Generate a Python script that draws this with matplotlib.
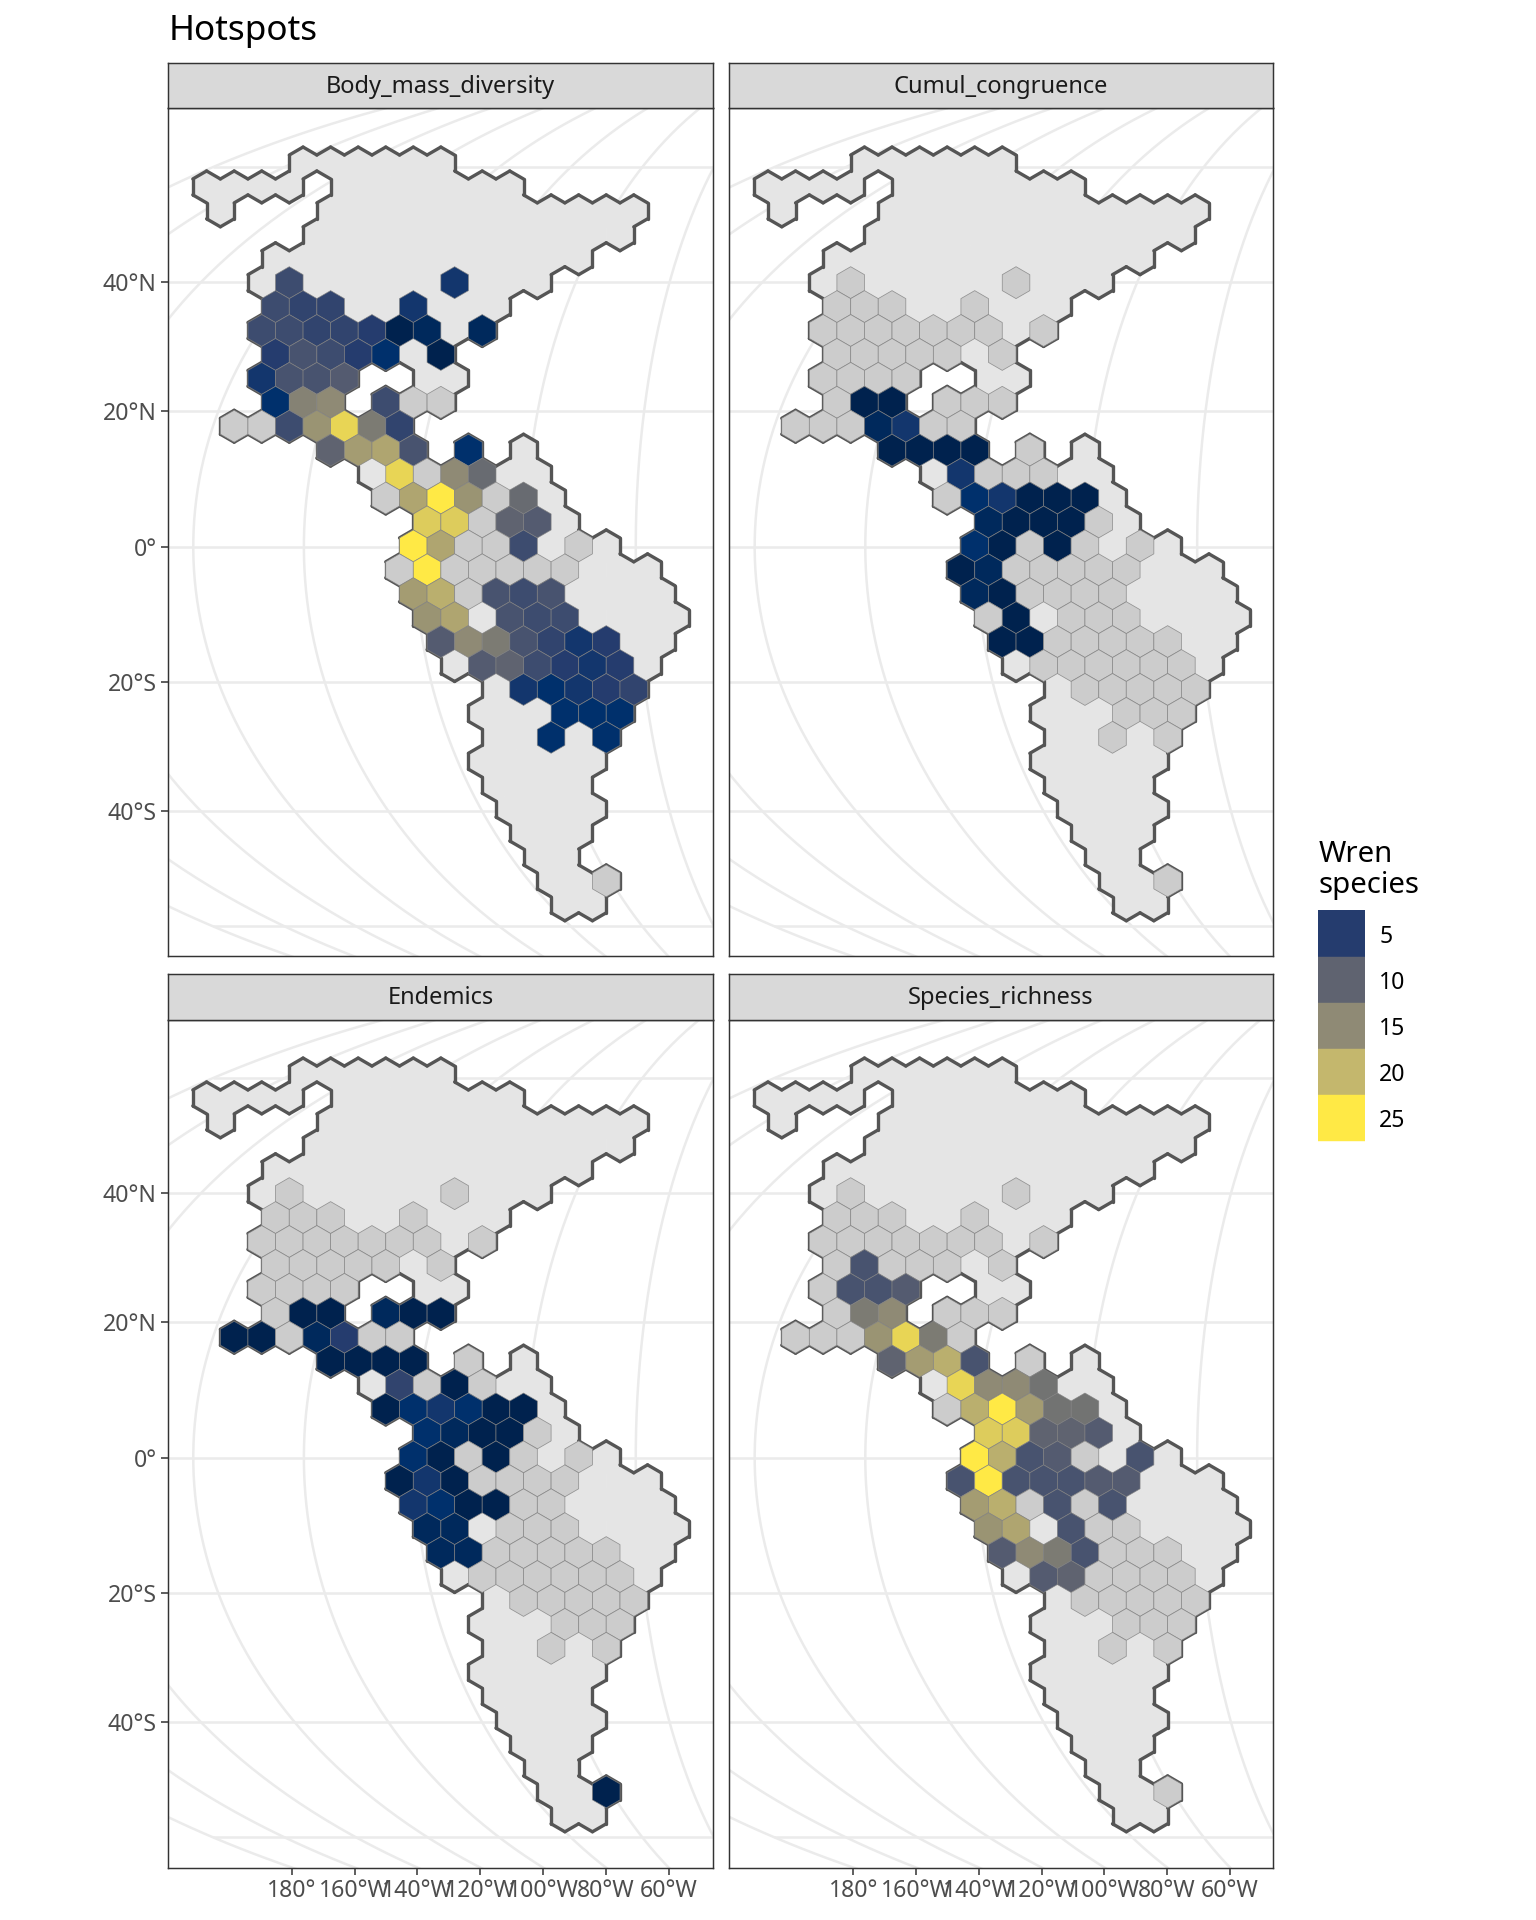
import numpy as np
import matplotlib
matplotlib.use("Agg")
import matplotlib.pyplot as plt
from matplotlib.collections import PolyCollection, LineCollection
from matplotlib.colors import LinearSegmentedColormap, Normalize

plt.rcParams['font.family'] = ['Noto Sans', 'DejaVu Sans']

# ---------- data: hex cells by (row, half-column) ----------
LAND_RUNS = {
    0: [(7, 17)], 1: [(0, 6), (10, 22)], 2: [(1, 1), (9, 31)], 3: [(8, 30)], 4: [(5, 27)],
    5: [(4, 24)], 6: [(5, 21)], 7: [(4, 20)], 8: [(5, 17)], 9: [(4, 10), (16, 18)],
    10: [(5, 9), (13, 17)], 11: [(2, 14)], 12: [(9, 15), (19, 19), (23, 23)], 13: [(12, 24)],
    14: [(13, 25)], 15: [(16, 26)], 16: [(15, 29)], 17: [(14, 32)], 18: [(15, 33)],
    19: [(16, 34)], 20: [(17, 33)], 21: [(18, 32)], 22: [(21, 31)], 23: [(20, 30)],
    24: [(21, 29)], 25: [(20, 28)], 26: [(21, 27)], 27: [(22, 28)], 28: [(23, 27)],
    29: [(24, 26)], 30: [(25, 29)], 31: [(26, 28)],
}

# every sampled cell; the values are those of Body_mass_diversity (0 = none)
BODY_MASS = {
    5: {6: 7, 18: 4},
    6: {5: 7, 7: 6, 9: 6, 15: 4},
    7: {4: 7, 6: 7, 8: 6, 10: 6, 12: 5, 14: 1, 16: 2, 20: 2},
    8: {5: 5, 7: 8, 9: 7, 11: 5, 13: 3, 17: 1},
    9: {4: 4, 6: 8, 8: 8, 10: 9},
    10: {5: 3, 7: 14, 9: 15, 13: 7, 15: 0, 17: 0},
    11: {2: 0, 4: 0, 6: 7, 8: 16, 10: 23, 12: 13, 14: 6},
    12: {9: 10, 11: 17, 13: 18, 15: 8, 19: 3},
    13: {14: 23, 16: 0, 18: 15, 20: 11},
    14: {13: 0, 15: 18, 17: 25, 19: 16, 21: 0, 23: 11},
    15: {16: 22, 18: 22, 20: 0, 22: 10, 24: 9},
    16: {15: 25, 17: 18, 19: 0, 21: 0, 23: 7, 27: 0},
    17: {14: 0, 16: 25, 18: 0, 20: 0, 22: 0, 24: 0, 26: 0},
    18: {15: 17, 17: 19, 19: 0, 21: 8, 23: 7, 25: 8},
    19: {16: 16, 18: 18, 22: 8, 24: 7, 26: 7},
    20: {17: 9, 19: 15, 21: 13, 23: 8, 25: 6, 27: 4, 29: 5},
    21: {20: 9, 22: 10, 24: 7, 26: 5, 28: 4, 30: 5},
    22: {23: 4, 25: 3, 27: 4, 29: 5, 31: 6},
    23: {26: 3, 28: 3, 30: 3},
    24: {25: 3, 29: 3},
    30: {29: 0},
}
CUMUL = {
    10: {7: 1, 9: 1},
    11: {8: 2, 10: 4},
    12: {9: 1, 11: 1, 13: 1, 15: 1},
    13: {14: 4},
    14: {15: 3, 17: 4, 19: 1, 21: 1, 23: 1},
    15: {16: 2, 18: 1, 20: 1, 22: 1},
    16: {15: 3, 17: 1, 21: 1},
    17: {14: 1, 16: 2},
    18: {15: 2, 17: 1},
    19: {18: 1},
    20: {17: 1, 19: 1},
}
ENDEMICS = {
    10: {7: 1, 9: 1, 13: 2, 15: 1, 17: 1},
    11: {2: 1, 4: 1, 8: 2, 10: 5},
    12: {9: 1, 11: 1, 13: 1, 15: 1},
    13: {14: 6, 18: 1},
    14: {13: 1, 15: 3, 17: 4, 19: 3, 21: 1, 23: 1},
    15: {16: 3, 18: 2, 20: 1, 22: 1},
    16: {15: 3, 17: 1, 21: 1},
    17: {14: 1, 16: 4, 18: 1},
    18: {15: 4, 17: 3, 19: 1, 21: 1},
    19: {16: 2, 18: 2},
    20: {17: 2, 19: 2},
    30: {29: 1},
}
RICHNESS = {
    8: {7: 8},
    9: {6: 8, 8: 8, 10: 9},
    10: {7: 13, 9: 15},
    11: {8: 16, 10: 23, 12: 13},
    12: {9: 10, 11: 17, 13: 19, 15: 8},
    13: {14: 23, 16: 15, 18: 15, 20: 12},
    14: {15: 19, 17: 25, 19: 17, 21: 12, 23: 12},
    15: {16: 22, 18: 22, 20: 10, 22: 10, 24: 9},
    16: {15: 25, 17: 19, 19: 8, 21: 9, 27: 8},
    17: {14: 8, 16: 25, 18: 8, 20: 8, 22: 8, 24: 9, 26: 9},
    18: {15: 17, 17: 19, 21: 8, 25: 8},
    19: {16: 16, 18: 18, 22: 8},
    20: {17: 9, 19: 15, 21: 13, 23: 8},
    21: {20: 9, 22: 10},
}
PANEL_NAMES = ['Body_mass_diversity', 'Cumul_congruence', 'Endemics', 'Species_richness']
PANEL_VALUES = [BODY_MASS, CUMUL, ENDEMICS, RICHNESS]

LEGEND_LEVELS = [5, 10, 15, 20, 25]
SCALE_VALUES = [1, 3, 5, 10, 15, 20, 25]
SCALE_COLOURS = ['#00224E', '#00306C', '#263C6E', '#5F6370', '#8F8A75', '#C4B76D', '#FFE945']

LAT_TICKS = [40, 20, 0, -20, -40]
LAT_LABELS = ['40°N', '20°N', '0°', '20°S', '40°S']
LON_TICKS = [-180, -160, -140, -120, -100, -80, -60]
LON_LABELS = ['180°', '160°W', '140°W', '120°W', '100°W', '80°W', '60°W']

# ---------- layout (pixels) ----------
W, H = 1536, 1920
S = 352.0                    # px per projected unit
XC, YC = 857.0, 546.7        # px of (0, 0) in the first panel
PX = [(168.4, 712.5), (728.5, 1273.0)]
PY = [(108.2, 956.2), (1019.5, 1867.5)]
SHIFT_X = [0.0, 561.4]       # map shift from the first panel, by column
SHIFT_Y = [0.0, 911.0]       # map shift from the first panel, by row
STRIP = 45.7
HEX_W = 27.56 / S
ROW_H = 23.93 / S
SIDE = ROW_H / 1.5
H0 = (206.6 - XC) / S
R0 = (YC - 163.0) / S


def solve_theta(lat_deg):
    phi = np.radians(lat_deg)
    lo, hi = -np.pi / 2 * np.ones_like(phi), np.pi / 2 * np.ones_like(phi)
    for _ in range(50):
        mid = (lo + hi) / 2
        f = 2 * mid + np.sin(2 * mid) - np.pi * np.sin(phi)
        hi = np.where(f > 0, mid, hi)
        lo = np.where(f > 0, lo, mid)
    return (lo + hi) / 2


def mollweide(lon, lat):
    lon, lat = np.asarray(lon, float), np.asarray(lat, float)
    th = solve_theta(lat)
    return 2 * np.sqrt(2) / np.pi * np.radians(lon) * np.cos(th), np.sqrt(2) * np.sin(th)


OFFS = [(0, 2), (1, 1), (1, -1), (0, -2), (-1, -1), (-1, 1)]


def lattice(r, h):
    return [(h + dx, -3 * r + dy) for dx, dy in OFFS]


def to_map(p):
    return H0 + p[0] * HEX_W / 2, R0 + p[1] * SIDE / 2


def hex_vertices(r, h):
    return [to_map(p) for p in lattice(r, h)]


land = [(r, h) for r, runs in LAND_RUNS.items() for a, b in runs for h in range(a, b + 1, 2)]
sampled = [(r, h) for r, row in BODY_MASS.items() for h in row]

edges = {}
for r, h in land:
    v = lattice(r, h)
    for i in range(6):
        key = tuple(sorted([v[i], v[(i + 1) % 6]]))
        edges[key] = edges.get(key, 0) + 1
outline = [(to_map(k[0]), to_map(k[1])) for k, n in edges.items() if n == 1]

cmap = LinearSegmentedColormap.from_list(
    'wren', [((v - 1) / 24, c) for v, c in zip(SCALE_VALUES, SCALE_COLOURS)])
norm = Normalize(1, 25)

GRID = '#EBEBEB'
DARK = '#333333'
fig = plt.figure(figsize=(W / 100, H / 100), dpi=100, facecolor='white')


def add_px_axes(x0, x1, y0, y1):
    return fig.add_axes([x0 / W, 1 - y1 / H, (x1 - x0) / W, (y1 - y0) / H])


grid_lons = np.arange(-180, 181, 20)
grid_lats = np.arange(-80, 81, 20)
fine = np.linspace(-89.5, 89.5, 361)
fine_lon = np.linspace(-180, 180, 361)

for i, (name, vals) in enumerate(zip(PANEL_NAMES, PANEL_VALUES)):
    col, row = i % 2, i // 2
    x0, x1 = PX[col]
    y0, y1 = PY[row]
    ax = add_px_axes(x0, x1, y0, y1)
    ax.set_xlim((x0 - SHIFT_X[col] - XC) / S, (x1 - SHIFT_X[col] - XC) / S)
    ax.set_ylim((YC - (y1 - SHIFT_Y[row])) / S, (YC - (y0 - SHIFT_Y[row])) / S)
    ybot = ax.get_ylim()[0]
    cos_bot = np.cos(np.arcsin(ybot / np.sqrt(2)))

    for lon in grid_lons:
        mx, my = mollweide(np.full_like(fine, lon), fine)
        ax.plot(mx, my, color=GRID, lw=1.8, zorder=1, solid_capstyle='butt')
    for lat in grid_lats:
        mx, my = mollweide(fine_lon, np.full_like(fine_lon, lat))
        ax.plot(mx, my, color=GRID, lw=1.8, zorder=1, solid_capstyle='butt')

    ax.add_collection(PolyCollection([hex_vertices(r, h) for r, h in land],
                                     facecolors='#E5E5E5', edgecolors='#E5E5E5',
                                     linewidths=0.4, zorder=2))
    ax.add_collection(LineCollection(outline, colors='#555555', linewidths=2.4,
                                     capstyle='round', zorder=3))
    polys, faces = [], []
    for r, h in sampled:
        v = vals.get(r, {}).get(h, 0)
        polys.append(hex_vertices(r, h))
        faces.append('#CCCCCC' if v == 0 else cmap(norm(v)))
    ax.add_collection(PolyCollection(polys, facecolors=faces, edgecolors=(0.5, 0.5, 0.5, 0.8),
                                     linewidths=0.55, zorder=4))

    ax.set_yticks(mollweide(np.zeros(len(LAT_TICKS)), LAT_TICKS)[1] if col == 0 else [])
    if col == 0:
        ax.set_yticklabels(LAT_LABELS)
    xt = [2 * np.sqrt(2) / np.pi * np.radians(l) * cos_bot for l in LON_TICKS]
    if row == 1:
        ax.set_xticks(xt)
        ax.set_xticklabels(LON_LABELS)
    else:
        ax.set_xticks([])
    ax.tick_params(length=4.8, width=1.1, color=DARK, labelcolor='#4D4D4D', labelsize=16.6, pad=3.6)
    for s in ax.spines.values():
        s.set_color(DARK)
        s.set_linewidth(1.05)
        s.set_zorder(6)

    st = add_px_axes(x0, x1, y0 - STRIP, y0)
    st.set_facecolor('#D9D9D9')
    st.set_xticks([])
    st.set_yticks([])
    for s in st.spines.values():
        s.set_color(DARK)
        s.set_linewidth(1.05)
    st.text(0.5, 0.46, name, transform=st.transAxes, ha='center', va='center',
            fontsize=17, color='#1A1A1A')

fig.text(169 / W, 1 - 31.5 / H, 'Hotspots', fontsize=25.3, color='black', ha='left', va='center')

# legend
lg = add_px_axes(1318.3, 1365.3, 910.5, 1141.5)
for i, lev in enumerate(LEGEND_LEVELS):
    lg.bar(0, 1, bottom=i, width=1, color=cmap(norm(lev)), edgecolor=cmap(norm(lev)), linewidth=0.3)
lg.set_xlim(-0.5, 0.5)
lg.set_ylim(len(LEGEND_LEVELS), 0)
lg.set_xticks([])
lg.yaxis.tick_right()
lg.set_yticks(np.arange(len(LEGEND_LEVELS)) + 0.5)
lg.set_yticklabels([str(v) for v in LEGEND_LEVELS])
lg.tick_params(length=0, labelsize=16.6, labelcolor='black', pad=10)
for s in lg.spines.values():
    s.set_visible(False)
fig.text(1318.3 / W, 1 - 854 / H, 'Wren', fontsize=21.2, ha='left', va='center')
fig.text(1318.3 / W, 1 - 885 / H, 'species', fontsize=21.2, ha='left', va='center')

fig.savefig('out.png', dpi=100, facecolor='white')
